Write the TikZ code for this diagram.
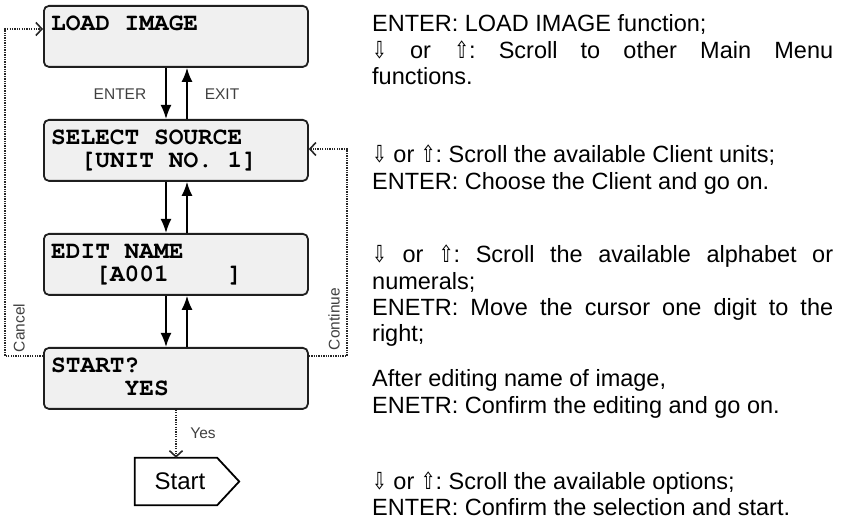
\documentclass[tikz,border=0pt]{standalone}
\usepackage{fontspec}
\usepackage{graphicx}
\setmainfont{Liberation Sans}
\newfontfamily\lcdfont{TeX Gyre Cursor}
\newfontfamily\symfont{DejaVu Sans}
\usetikzlibrary{arrows.meta,calc}
\newcommand\arrdn{{\symfont\scalebox{0.75}[1]{⇩}}}
\newcommand\arrup{{\symfont\scalebox{0.75}[1]{⇧}}}
\frenchspacing
\tikzset{
  lcd/.style={draw=black!88, line width=1.8pt, rounded corners=5pt, fill=black!6,
    minimum width=264pt, minimum height=61pt, inner sep=0pt, anchor=north west},
  lcdtxt/.style={font=\lcdfont\bfseries\fontsize{24.5}{23}\selectfont, anchor=base west, inner sep=0pt},
  flow/.style={line width=1.8pt, -{Latex[length=14pt,width=11pt]}},
  loopline/.style={line width=2pt, black!85, dash pattern=on 1.3pt off 1.1pt,
    -{Straight Barb[length=6pt,width=13pt,line width=1.6pt]}},
  lbl/.style={font=\fontsize{15.5}{18}\selectfont, text=black!75, inner sep=0pt},
  vlbl/.style={font=\fontsize{15.5}{17}\selectfont, text=black!75, inner sep=0pt, rotate=90},
  desc/.style={font=\fontsize{23.5}{26.3}\selectfont, text width=461pt, align=justify,
    anchor=base west, inner sep=0pt}
}
\begin{document}
\begin{tikzpicture}[x=1pt,y=-1pt]
\useasboundingbox (0,0) rectangle (844,529);
% boxes
\node[lcd] (b1) at (43,5) {};
\node[lcd] (b2) at (43,119) {};
\node[lcd] (b3) at (43,233) {};
\node[lcd] (b4) at (43,347) {};
\node[lcdtxt] (t1) at (51,31) {LOAD IMAGE};
\node[lcdtxt] (t2) at (51,145) {SELECT SOURCE};
\node[lcdtxt] (t2b) at (80.4,168) {[UNIT~NO.~1]};
\node[lcdtxt] (t3) at (51,259) {EDIT NAME};
\node[lcdtxt] (t3b) at (95.1,282) {[A001\phantom{0000}]};
\node[lcdtxt] (t4) at (51,373) {START?};
\node[lcdtxt] (t4b) at (124.5,396) {YES};
% vertical flow arrows
\coordinate (xd) at (166,0);
\coordinate (xu) at (187,0);
\coordinate (xs) at (176,0);
\draw[flow] (b1.south -| xd) -- (b2.north -| xd);
\draw[flow] (b2.north -| xu) -- (b1.south -| xu);
\draw[flow] (b2.south -| xd) -- (b3.north -| xd);
\draw[flow] (b3.north -| xu) -- (b2.south -| xu);
\draw[flow] (b3.south -| xd) -- (b4.north -| xd);
\draw[flow] (b4.north -| xu) -- (b3.south -| xu);
\node[lbl] (lenter) at (120,94) {ENTER};
\node[lbl] (lexit) at (222,94) {EXIT};
% loops
\coordinate (lx) at (5,29);
\coordinate (rx) at (347,149);
\draw[loopline] ($(b4.north west)+(0,9)$) -| (lx) -- ($(b1.north west)+(0,24)$);
\draw[loopline] ($(b4.north east)+(0,9)$) -| (rx) -- ($(b2.north east)+(0,30)$);
\node[vlbl] (lcancel) at (19,328) {Cancel};
\node[vlbl] (lcont) at (334,319) {Continue};
% start
\node[minimum width=82pt, minimum height=47pt, inner sep=0pt,
  font=\fontsize{24}{28}\selectfont] (start) at (176,481.5) {\hspace*{8pt}Start};
\draw[line width=1.8pt, line join=miter] (start.north west) -- (start.north east)
  -- ($(start.east)+(22,0)$) -- (start.south east) -- (start.south west) -- cycle;
\draw[loopline] (b4.south -| xs) -- (start.north);
\node[lbl] (lyes) at (203,433) {Yes};
% descriptions
\node[desc] (d1) at (372,32) {ENTER: LOAD IMAGE function;\par
  \arrdn\ or \arrup: Scroll to other Main Menu\linebreak functions.};
\node[desc] (d2) at (372,163) {\arrdn\ or \arrup: Scroll the available Client units;\par
  ENTER: Choose the Client and go on.};
\node[desc] (d3) at (372,263) {\arrdn\ or \arrup: Scroll the available alphabet or\linebreak numerals;\par
  ENETR: Move the cursor one digit to the\linebreak right;};
\node[desc] (d4) at (372,387) {After editing name of image,\par
  ENETR: Confirm the editing and go on.};
\node[desc] (d5) at (372,489) {\arrdn\ or \arrup: Scroll the available options;\par
  ENTER: Confirm the selection and start.};
\end{tikzpicture}
\end{document}
